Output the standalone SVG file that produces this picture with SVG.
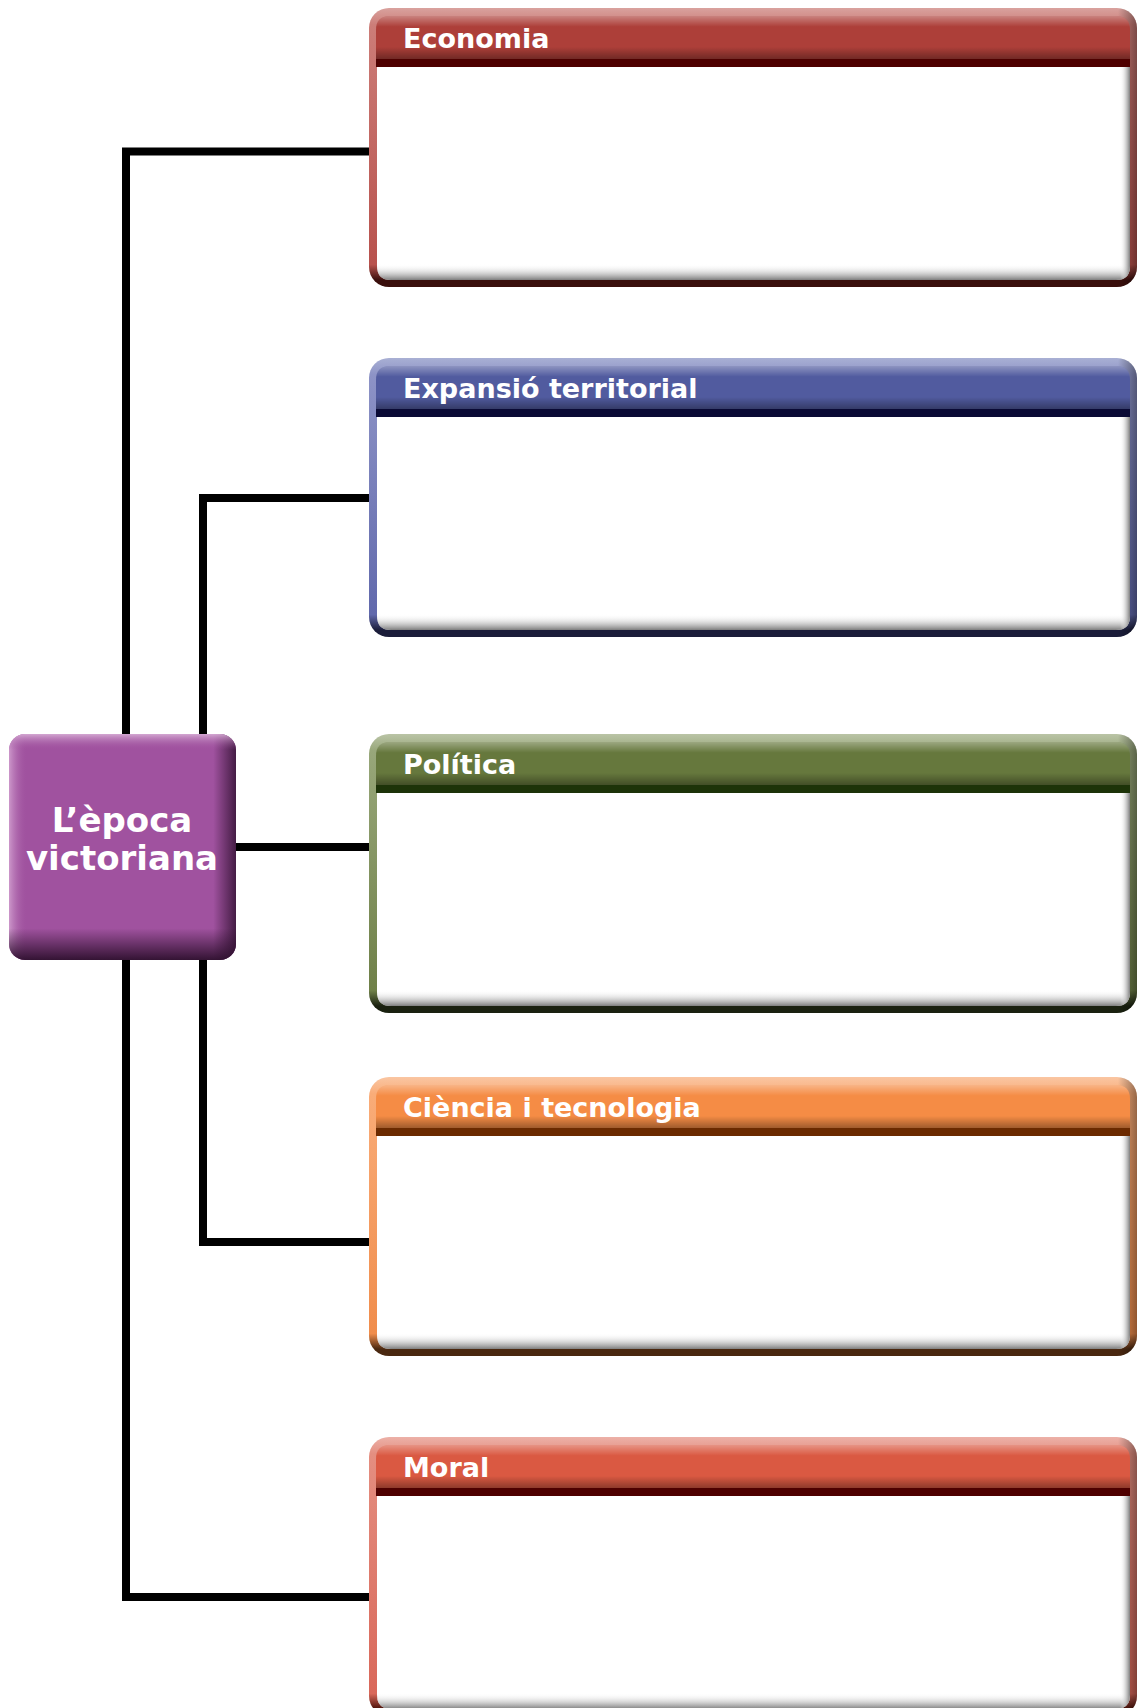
<svg xmlns="http://www.w3.org/2000/svg" width="1137" height="1708" viewBox="0 0 1137 1708">
<style>
.conn{fill:none;stroke:#000;stroke-width:8;stroke-linejoin:miter;stroke-linecap:butt}
.ht{font-family:"DejaVu Sans","Liberation Sans",sans-serif;font-weight:bold;font-size:27px;fill:#fff}
.ct{font-family:"DejaVu Sans","Liberation Sans",sans-serif;font-weight:bold;font-size:34px;fill:#fff;text-anchor:middle}
.body{fill:#fff}
</style>
<defs>
<clipPath id="outerClip" clipPathUnits="userSpaceOnUse"><rect x="369" y="0" width="768" height="279" rx="20"/></clipPath>
<clipPath id="bodyClip" clipPathUnits="userSpaceOnUse"><path d="M377,59 H1130 V258 Q1130,272 1116,272 H391 Q377,272 377,258 Z"/></clipPath>
<linearGradient id="shb" x1="0" y1="0" x2="0" y2="1"><stop offset="0" stop-color="#fff" stop-opacity="0"/><stop offset="0.6" stop-color="#bbb" stop-opacity="0.7"/><stop offset="1" stop-color="#777" stop-opacity="0.95"/></linearGradient>
<linearGradient id="shr" x1="0" y1="0" x2="1" y2="0"><stop offset="0" stop-color="#fff" stop-opacity="0"/><stop offset="0.6" stop-color="#bbb" stop-opacity="0.7"/><stop offset="1" stop-color="#777" stop-opacity="0.95"/></linearGradient>
<linearGradient id="edgeR" x1="0" y1="0" x2="1" y2="0"><stop offset="0" stop-color="#000" stop-opacity="0"/><stop offset="1" stop-color="#000" stop-opacity="0.4"/></linearGradient>
<linearGradient id="hdrShade" x1="0" y1="0" x2="0" y2="1"><stop offset="0" stop-color="#fff" stop-opacity="0.35"/><stop offset="0.25" stop-color="#fff" stop-opacity="0"/><stop offset="0.72" stop-color="#000" stop-opacity="0"/><stop offset="1" stop-color="#000" stop-opacity="0.35"/></linearGradient>

<linearGradient id="o1" x1="0" y1="0" x2="0" y2="1"><stop offset="0" stop-color="#D9A29E"/><stop offset="0.06" stop-color="#CC7D78"/><stop offset="0.92" stop-color="#B8524D"/><stop offset="0.975" stop-color="#3A0F0C"/><stop offset="1" stop-color="#3A0F0C"/></linearGradient>
<linearGradient id="o2" x1="0" y1="0" x2="0" y2="1"><stop offset="0" stop-color="#A9B0D4"/><stop offset="0.06" stop-color="#8D93C6"/><stop offset="0.92" stop-color="#6169AC"/><stop offset="0.975" stop-color="#1B1D3A"/><stop offset="1" stop-color="#1B1D3A"/></linearGradient>
<linearGradient id="o3" x1="0" y1="0" x2="0" y2="1"><stop offset="0" stop-color="#BAC4A6"/><stop offset="0.06" stop-color="#98A77A"/><stop offset="0.92" stop-color="#6F8048"/><stop offset="0.975" stop-color="#1A2110"/><stop offset="1" stop-color="#1A2110"/></linearGradient>
<linearGradient id="o4" x1="0" y1="0" x2="0" y2="1"><stop offset="0" stop-color="#FAC6A2"/><stop offset="0.06" stop-color="#F9AC78"/><stop offset="0.92" stop-color="#F08D4C"/><stop offset="0.975" stop-color="#4A2810"/><stop offset="1" stop-color="#4A2810"/></linearGradient>
<linearGradient id="o5" x1="0" y1="0" x2="0" y2="1"><stop offset="0" stop-color="#ECB1A8"/><stop offset="0.06" stop-color="#E48E80"/><stop offset="0.92" stop-color="#D9685A"/><stop offset="0.975" stop-color="#4A1008"/><stop offset="1" stop-color="#4A1008"/></linearGradient>

<linearGradient id="nodeH" x1="0" y1="0" x2="1" y2="0"><stop offset="0" stop-color="#D7A8D5" stop-opacity="0.8"/><stop offset="0.08" stop-color="#A0529F" stop-opacity="0"/><stop offset="0.9" stop-color="#3A163A" stop-opacity="0"/><stop offset="1" stop-color="#3A163A" stop-opacity="0.9"/></linearGradient>
<linearGradient id="nodeV" x1="0" y1="0" x2="0" y2="1"><stop offset="0" stop-color="#E0BCDE" stop-opacity="0.8"/><stop offset="0.07" stop-color="#A0529F" stop-opacity="0"/><stop offset="0.86" stop-color="#2E102E" stop-opacity="0"/><stop offset="1" stop-color="#2E102E" stop-opacity="0.95"/></linearGradient>
<clipPath id="nodeClip"><rect x="9" y="734" width="227" height="226" rx="16"/></clipPath>
</defs>

<g id="connectors">
<path class="conn" d="M369,151.5 H126 V734"/>
<path class="conn" d="M369,498 H203 V734"/>
<path class="conn" d="M236,847 H369"/>
<path class="conn" d="M203,960 V1242 H369"/>
<path class="conn" d="M126,960 V1597 H369"/>
</g>

<g id="node-center">
<rect x="9" y="734" width="227" height="226" rx="16" fill="#A0529F"/>
<g clip-path="url(#nodeClip)">
<rect x="9" y="734" width="227" height="226" fill="url(#nodeH)"/>
<rect x="9" y="734" width="227" height="226" fill="url(#nodeV)"/>
</g>
<text class="ct" x="122" y="832">L’època</text>
<text class="ct" x="122" y="870">victoriana</text>
</g>

<g id="node-economia" transform="translate(0,8)">
<rect x="369" y="0" width="768" height="279" rx="20" fill="url(#o1)"/>
<g clip-path="url(#outerClip)"><rect x="1118" y="0" width="19" height="279" fill="url(#edgeR)"/></g>
<path d="M376,51 V22 Q376,8 390,8 H1116 Q1130,8 1130,22 V51 Z" fill="#AD3F39"/>
<path d="M376,51 V22 Q376,8 390,8 H1116 Q1130,8 1130,22 V51 Z" fill="url(#hdrShade)"/>
<rect x="376" y="51" width="754" height="8" fill="#4E0000"/>
<path class="body" d="M377,59 H1130 V258 Q1130,272 1116,272 H391 Q377,272 377,258 Z"/>
<g clip-path="url(#bodyClip)"><rect x="377" y="256" width="753" height="16" fill="url(#shb)"/><rect x="1120" y="59" width="10" height="213" fill="url(#shr)"/></g>
<text class="ht" x="403" y="40">Economia</text>
</g>

<g id="node-expansio" transform="translate(0,358)">
<rect x="369" y="0" width="768" height="279" rx="20" fill="url(#o2)"/>
<g clip-path="url(#outerClip)"><rect x="1118" y="0" width="19" height="279" fill="url(#edgeR)"/></g>
<path d="M376,51 V22 Q376,8 390,8 H1116 Q1130,8 1130,22 V51 Z" fill="#515B9F"/>
<path d="M376,51 V22 Q376,8 390,8 H1116 Q1130,8 1130,22 V51 Z" fill="url(#hdrShade)"/>
<rect x="376" y="51" width="754" height="8" fill="#0A0A35"/>
<path class="body" d="M377,59 H1130 V258 Q1130,272 1116,272 H391 Q377,272 377,258 Z"/>
<g clip-path="url(#bodyClip)"><rect x="377" y="256" width="753" height="16" fill="url(#shb)"/><rect x="1120" y="59" width="10" height="213" fill="url(#shr)"/></g>
<text class="ht" x="403" y="40">Expansió territorial</text>
</g>

<g id="node-politica" transform="translate(0,734)">
<rect x="369" y="0" width="768" height="279" rx="20" fill="url(#o3)"/>
<g clip-path="url(#outerClip)"><rect x="1118" y="0" width="19" height="279" fill="url(#edgeR)"/></g>
<path d="M376,51 V22 Q376,8 390,8 H1116 Q1130,8 1130,22 V51 Z" fill="#66783D"/>
<path d="M376,51 V22 Q376,8 390,8 H1116 Q1130,8 1130,22 V51 Z" fill="url(#hdrShade)"/>
<rect x="376" y="51" width="754" height="8" fill="#1D3309"/>
<path class="body" d="M377,59 H1130 V258 Q1130,272 1116,272 H391 Q377,272 377,258 Z"/>
<g clip-path="url(#bodyClip)"><rect x="377" y="256" width="753" height="16" fill="url(#shb)"/><rect x="1120" y="59" width="10" height="213" fill="url(#shr)"/></g>
<text class="ht" x="403" y="40">Política</text>
</g>

<g id="node-ciencia" transform="translate(0,1077)">
<rect x="369" y="0" width="768" height="279" rx="20" fill="url(#o4)"/>
<g clip-path="url(#outerClip)"><rect x="1118" y="0" width="19" height="279" fill="url(#edgeR)"/></g>
<path d="M376,51 V22 Q376,8 390,8 H1116 Q1130,8 1130,22 V51 Z" fill="#F58C45"/>
<path d="M376,51 V22 Q376,8 390,8 H1116 Q1130,8 1130,22 V51 Z" fill="url(#hdrShade)"/>
<rect x="376" y="51" width="754" height="8" fill="#6B2A00"/>
<path class="body" d="M377,59 H1130 V258 Q1130,272 1116,272 H391 Q377,272 377,258 Z"/>
<g clip-path="url(#bodyClip)"><rect x="377" y="256" width="753" height="16" fill="url(#shb)"/><rect x="1120" y="59" width="10" height="213" fill="url(#shr)"/></g>
<text class="ht" x="403" y="40">Ciència i tecnologia</text>
</g>

<g id="node-moral" transform="translate(0,1437)">
<rect x="369" y="0" width="768" height="279" rx="20" fill="url(#o5)"/>
<g clip-path="url(#outerClip)"><rect x="1118" y="0" width="19" height="279" fill="url(#edgeR)"/></g>
<path d="M376,51 V22 Q376,8 390,8 H1116 Q1130,8 1130,22 V51 Z" fill="#DA5942"/>
<path d="M376,51 V22 Q376,8 390,8 H1116 Q1130,8 1130,22 V51 Z" fill="url(#hdrShade)"/>
<rect x="376" y="51" width="754" height="8" fill="#4E0000"/>
<path class="body" d="M377,59 H1130 V258 Q1130,272 1116,272 H391 Q377,272 377,258 Z"/>
<g clip-path="url(#bodyClip)"><rect x="377" y="256" width="753" height="16" fill="url(#shb)"/><rect x="1120" y="59" width="10" height="213" fill="url(#shr)"/></g>
<text class="ht" x="403" y="40">Moral</text>
</g>
</svg>
